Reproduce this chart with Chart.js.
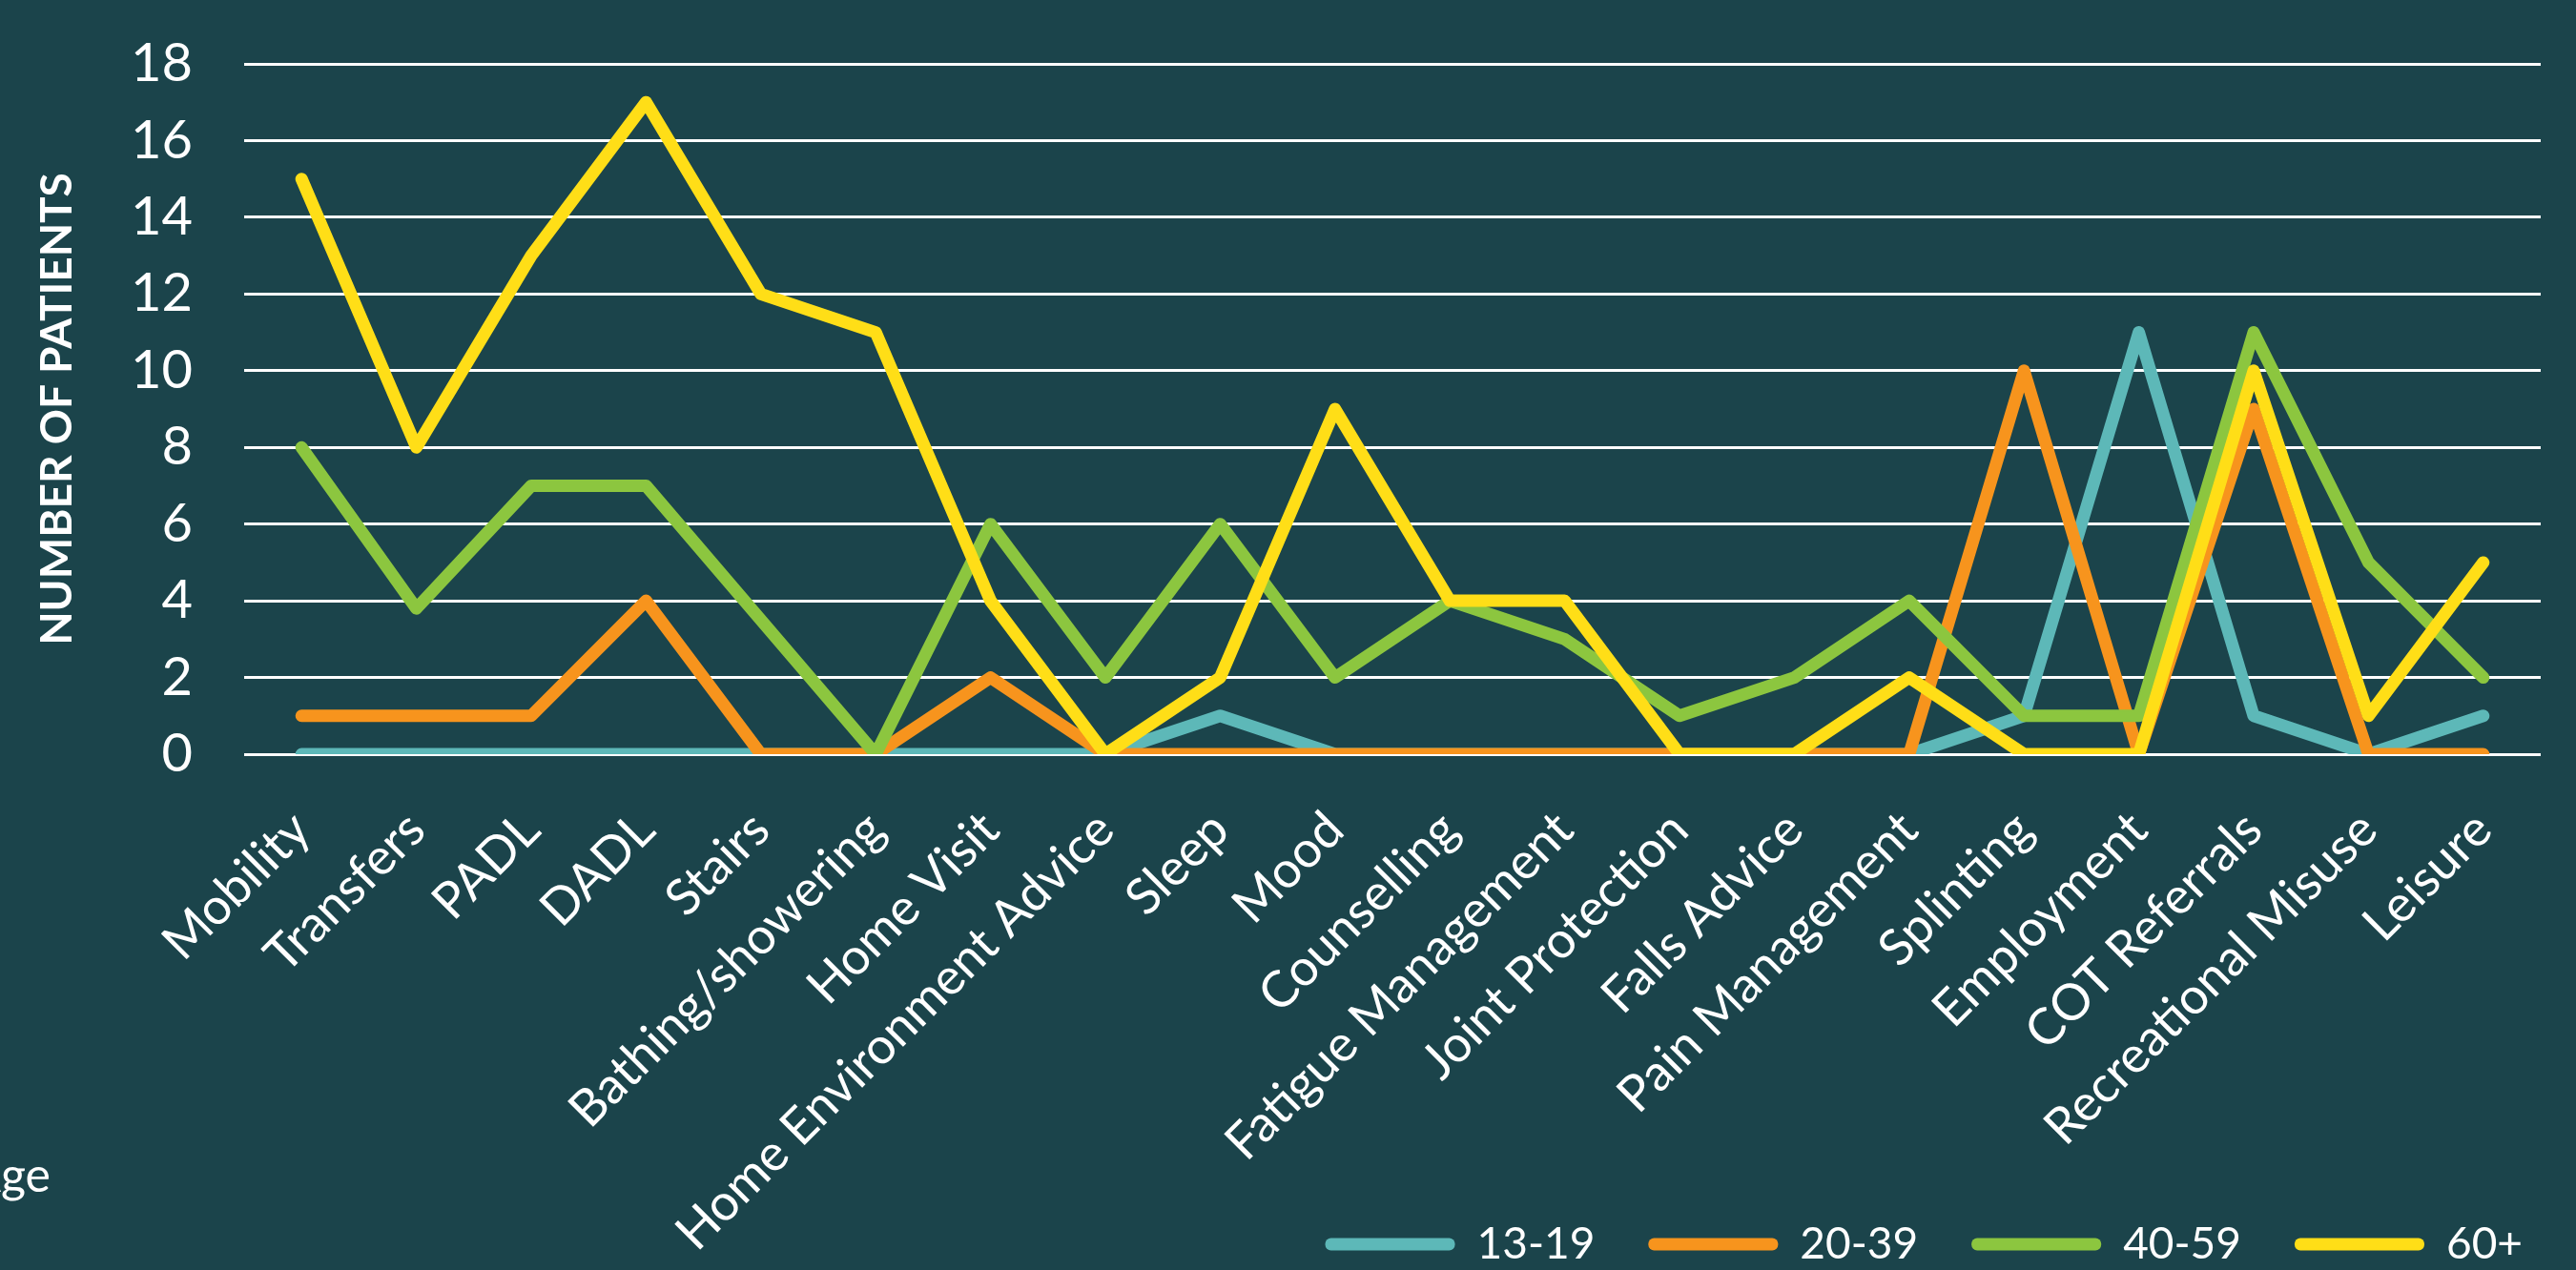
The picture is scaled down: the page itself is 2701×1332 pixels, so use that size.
<!DOCTYPE html>
<html>
<head>
<meta charset="utf-8">
<script src="https://cdn.jsdelivr.net/npm/chart.js@4.4.1/dist/chart.umd.min.js"></script>
<style>
    html, body { margin: 0; padding: 0; background: #1b444b; }
    canvas { display: block; }
</style>
</head>
<body>
<canvas id="myChart" width="2701" height="1332"></canvas>
<script>
// Categories along the x axis
const categories = [
    'Mobility', 'Transfers', 'PADL', 'DADL', 'Stairs', 'Bathing/showering',
    'Home Visit', 'Home Environment Advice', 'Sleep', 'Mood', 'Counselling',
    'Fatigue Management', 'Joint Protection', 'Falls Advice', 'Pain Management',
    'Splinting', 'Employment', 'COT Referrals', 'Recreational Misuse', 'Leisure'
];

// Number of patients per age group
const age13to19 = [0, 0, 0, 0, 0, 0, 0, 0, 1, 0, 0, 0, 0, 0, 0, 1, 11, 1, 0, 1];
const age20to39 = [1, 1, 1, 4, 0, 0, 2, 0, 0, 0, 0, 0, 0, 0, 0, 10, 0, 9, 0, 0];
const age40to59 = [8, 3.8, 7, 7, 3.5, 0, 6, 2, 6, 2, 4, 3, 1, 2, 4, 1, 1, 11, 5, 2];
const age60plus = [15, 8, 13, 17, 12, 11, 4, 0, 2, 9, 4, 4, 0, 0, 2, 0, 0, 10, 1, 5];

const yTicks = [0, 2, 4, 6, 8, 10, 12, 14, 16, 18];

const seriesNames = ['13-19', '20-39', '40-59', '60+'];
const seriesColors = ['#5db8b8', '#f7941d', '#8cc63f', '#ffde17'];

const white = '#ffffff';
const fontFamily = 'Lato, "Open Sans", sans-serif';

function makeDataset(i, values) {
    return {
        label: seriesNames[i],
        data: values,
        borderColor: seriesColors[i],
        backgroundColor: seriesColors[i],
        borderWidth: 13,
        borderJoinStyle: 'round',
        borderCapStyle: 'round',
        pointRadius: 0,
        pointHoverRadius: 0,
        tension: 0,
        fill: false,
        order: 3 - i // later series drawn on top
    };
}

// Let the x labels run down to the bottom edge (they overlap the legend row)
// and drop the legend a little
const stretchAxis = {
    id: 'stretchAxis',
    afterLayout(chart) {
        const xs = chart.scales.x;
        xs.bottom = chart.height;
        xs.height = xs.bottom - xs.top;
        chart.legend.top += 6;
        chart.legend.bottom += 6;
    }
};

// Cut-off "Age" text at the bottom left
const ageLabel = {
    id: 'ageLabel',
    afterDraw(chart) {
        const c = chart.ctx;
        c.save();
        c.font = '50px ' + fontFamily;
        c.fillStyle = white;
        c.textAlign = 'right';
        c.textBaseline = 'alphabetic';
        c.fillText('Age', 53, 1250);
        c.restore();
    }
};

const ctx = document.getElementById('myChart').getContext('2d');

const chart = new Chart(ctx, {
    type: 'line',
    data: {
        labels: categories,
        datasets: [
            makeDataset(0, age13to19),
            makeDataset(1, age20to39),
            makeDataset(2, age40to59),
            makeDataset(3, age60plus)
        ]
    },
    options: {
        responsive: false,
        animation: false,
        layout: {
            padding: { top: 67, left: 0, right: 0, bottom: 0 }
        },
        scales: {
            x: {
                offset: true,
                grid: { display: false, drawTicks: false },
                border: { display: false },
                ticks: {
                    color: white,
                    font: { family: fontFamily, size: 53 },
                    minRotation: 45,
                    maxRotation: 45,
                    autoSkip: false,
                    padding: 48
                },
                afterFit(scale) {
                    scale.height = 429;
                }
            },
            y: {
                min: 0,
                max: 18,
                grid: {
                    color: white,
                    lineWidth: 3,
                    drawTicks: true,
                    tickLength: 54,
                    tickColor: 'rgba(0,0,0,0)'
                },
                border: { display: false },
                afterBuildTicks(scale) {
                    scale.ticks = yTicks.map(v => ({ value: v }));
                },
                ticks: {
                    color: white,
                    font: { family: fontFamily, size: 56 },
                    padding: 0
                },
                title: {
                    display: true,
                    text: 'NUMBER OF PATIENTS',
                    color: white,
                    font: { family: fontFamily, size: 46, weight: 'bold' },
                    padding: { top: 33, bottom: 0 }
                },
                afterFit(scale) {
                    scale.width = 256;
                }
            },
            // empty axis on the right, only keeps space after the grid
            yRight: {
                position: 'right',
                display: true,
                grid: { display: false, drawTicks: false },
                border: { display: false },
                ticks: { display: false, padding: 0 },
                afterFit(scale) {
                    scale.width = 37;
                }
            }
        },
        plugins: {
            legend: {
                position: 'bottom',
                align: 'end',
                labels: {
                    color: white,
                    font: { family: fontFamily, size: 46, lineHeight: 1.0 },
                    boxWidth: 136,
                    boxHeight: 13,
                    useBorderRadius: true,
                    borderRadius: 6,
                    padding: 56,
                    sort: (a, b) => a.datasetIndex - b.datasetIndex,
                    generateLabels(chart) {
                        const items = Chart.defaults.plugins.legend.labels.generateLabels(chart);
                        return items.map(item => ({ ...item, lineWidth: 0 }));
                    }
                }
            },
            tooltip: { enabled: false }
        }
    },
    plugins: [stretchAxis, ageLabel]
});
</script>
</body>
</html>
